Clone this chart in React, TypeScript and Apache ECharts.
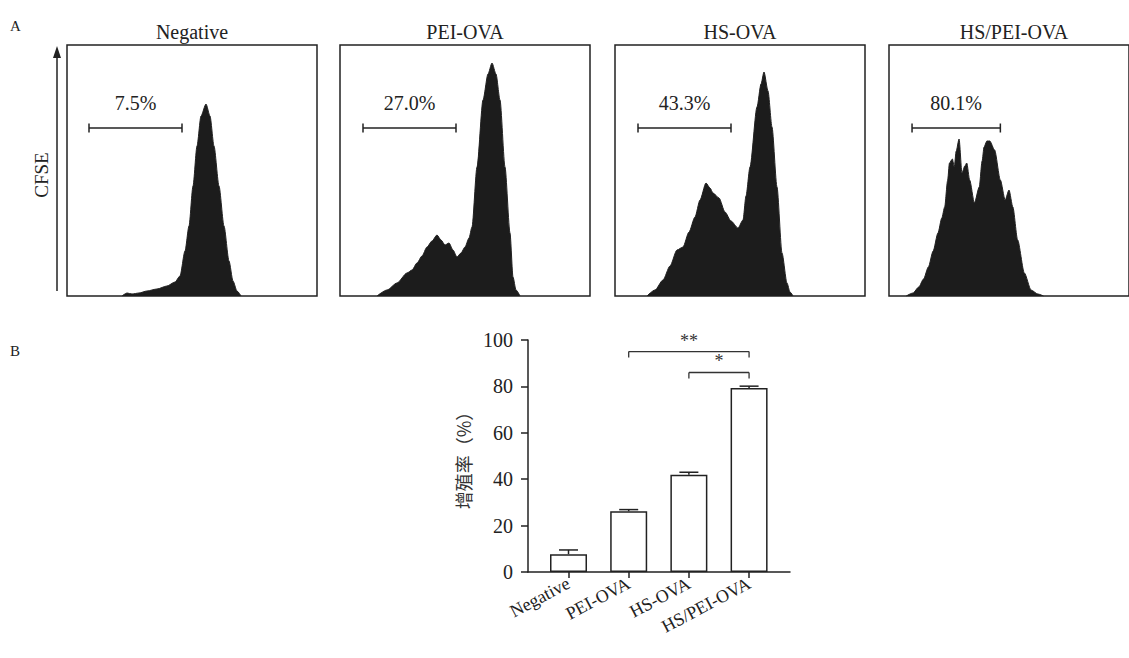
import React, { useEffect, useRef } from "react";
import * as echarts from "echarts";

// ---------- Panel A data ----------
const histTitles = ["Negative", "PEI-OVA", "HS-OVA", "HS/PEI-OVA"];
const gateLabels = ["7.5%", "27.0%", "43.3%", "80.1%"];
const gateStart = [22, 23, 23, 24];
const gateEnd = [115, 116, 116, 116];
const gateLevel = [168, 168, 168, 168];

// [channel, count]
const histNegative = [
  [55, 0], [60, 3], [65, 2], [72, 3], [80, 5], [90, 7], [100, 10], [108, 14], [113, 20],
  [118, 45], [122, 70], [126, 110], [130, 150], [134, 180], [139, 192], [143, 180],
  [147, 150], [152, 110], [157, 70], [162, 35], [166, 15], [170, 5], [174, 0],
];
const histPEI = [
  [37, 0], [47, 6], [57, 13], [67, 23], [72, 26], [77, 33], [82, 40], [87, 49], [92, 55],
  [97, 61], [101, 56], [105, 51], [109, 53], [113, 46], [117, 39], [121, 43], [125, 49],
  [129, 58], [132, 69], [137, 129], [143, 196], [148, 222], [152, 233], [156, 222],
  [160, 196], [165, 129], [170, 63], [173, 19], [176, 6], [180, 0],
];
const histHS = [
  [32, 0], [40, 6], [48, 16], [55, 30], [62, 46], [68, 49], [74, 64], [80, 79], [85, 96],
  [91, 113], [95, 108], [98, 103], [104, 98], [110, 84], [116, 75], [123, 68], [128, 76],
  [131, 100], [135, 129], [142, 189], [146, 212], [149, 224], [153, 205], [157, 169],
  [162, 109], [167, 43], [172, 13], [175, 4], [178, 0],
];
const histHSPEI = [
  [18, 0], [25, 3], [31, 9], [36, 17], [41, 29], [46, 45], [51, 63], [55, 78], [58, 89],
  [61, 115], [63, 133], [66, 137], [68, 129], [70, 145], [73, 157], [76, 123], [79, 130],
  [81, 133], [84, 116], [89, 93], [94, 109], [97, 135], [99, 149], [102, 155], [105, 155],
  [110, 146], [116, 116], [121, 96], [125, 106], [129, 89], [134, 56], [141, 23],
  [148, 6], [155, 2], [161, 0],
];
const histData = [histNegative, histPEI, histHS, histHSPEI];

// ---------- Panel B data ----------
const barCategories = ["Negative", "PEI-OVA", "HS-OVA", "HS/PEI-OVA"];
const barMeans = [7.7, 26.2, 41.9, 79.3];
const barErrors = [1.8, 0.7, 1.1, 0.8];
const yTicks = [0, 20, 40, 60, 80, 100];
// [from category, to category, bracket level]
const sigBrackets = [
  [1, 3, 95],
  [2, 3, 86],
];
const sigLabels = ["**", "*"];

const SERIF = '"Liberation Serif", "Times New Roman", serif';
const INK = "#222";

export default function App() {
  const ref = useRef<HTMLDivElement>(null);

  useEffect(() => {
    if (!ref.current) return;
    const chart = echarts.init(ref.current, null, { renderer: "svg" });

    const histLefts = [67, 340, 615, 889];
    const grids: any[] = histLefts.map((l) => ({
      left: l,
      top: 45,
      width: 250,
      height: 251,
      show: true,
      borderColor: INK,
      borderWidth: 1.5,
      backgroundColor: "transparent",
    }));
    grids.push({ left: 528, top: 340, width: 262, height: 232 });

    const xAxes: any[] = histLefts.map((_, i) => ({
      gridIndex: i, type: "value", min: 0, max: 250, show: false,
    }));
    const yAxes: any[] = histLefts.map((_, i) => ({
      gridIndex: i, type: "value", min: 0, max: 251, show: false,
    }));

    xAxes.push({
      gridIndex: 4,
      type: "value",
      min: -0.673,
      max: 3.68,
      splitLine: { show: false },
      axisLine: { show: true, onZero: false, lineStyle: { color: INK, width: 1.5 } },
      axisTick: { show: true, customValues: [0, 1, 2, 3], length: 6, lineStyle: { color: INK, width: 1.5 } },
      axisLabel: {
        customValues: [0, 1, 2, 3],
        formatter: (v: number) => barCategories[Math.round(v)] ?? "",
        rotate: 28,
        fontFamily: SERIF,
        fontSize: 18,
        color: INK,
        margin: 10,
      },
    });
    yAxes.push({
      gridIndex: 4,
      type: "value",
      min: 0,
      max: 100,
      interval: 20,
      splitLine: { show: false },
      axisLine: { show: true, onZero: false, lineStyle: { color: INK, width: 1.5 } },
      axisTick: { show: true, length: 7, lineStyle: { color: INK, width: 1.5 } },
      axisLabel: {
        fontFamily: SERIF,
        fontSize: 20,
        color: INK,
        margin: 15,
        formatter: (v: number) => (yTicks.includes(v) ? String(v) : ""),
      },
      name: "增殖率（%）",
      nameLocation: "middle",
      nameGap: 56,
      nameRotate: 90,
      nameTextStyle: { fontFamily: '"Noto Sans CJK SC"', fontSize: 18, color: "#333" },
    });

    const series: any[] = [];
    histData.forEach((d, i) => {
      series.push({
        type: "line",
        xAxisIndex: i,
        yAxisIndex: i,
        data: d,
        symbol: "none",
        smooth: 0.25,
        smoothMonotone: "x",
        lineStyle: { color: INK, width: 1 },
        areaStyle: { color: "#1c1c1c", opacity: 1 },
        silent: true,
      });
      series.push({
        type: "custom",
        xAxisIndex: i,
        yAxisIndex: i,
        clip: false,
        data: [[gateStart[i], gateEnd[i], gateLevel[i]]],
        renderItem: (params: any, api: any) => {
          const a = api.coord([api.value(0), api.value(2)]);
          const b = api.coord([api.value(1), api.value(2)]);
          const st = { stroke: INK, lineWidth: 1.5 };
          return {
            type: "group",
            children: [
              { type: "line", shape: { x1: a[0], y1: a[1], x2: b[0], y2: b[1] }, style: st },
              { type: "line", shape: { x1: a[0], y1: a[1] - 4.5, x2: a[0], y2: a[1] + 4.5 }, style: st },
              { type: "line", shape: { x1: b[0], y1: b[1] - 4.5, x2: b[0], y2: b[1] + 4.5 }, style: st },
              {
                type: "text",
                style: {
                  text: gateLabels[i],
                  x: (a[0] + b[0]) / 2,
                  y: a[1] - 25,
                  fill: INK,
                  font: `20px ${SERIF}`,
                  textAlign: "center",
                  textVerticalAlign: "middle",
                },
              },
            ],
          };
        },
      });
    });

    series.push({
      type: "bar",
      xAxisIndex: 4,
      yAxisIndex: 4,
      data: barMeans.map((m, i) => [i, m]),
      barWidth: 37,
      itemStyle: { color: "#fff", borderColor: INK, borderWidth: 1.5 },
    });
    series.push({
      type: "custom",
      xAxisIndex: 4,
      yAxisIndex: 4,
      clip: false,
      z: 5,
      data: barMeans.map((m, i) => [i, m, barErrors[i]]),
      renderItem: (params: any, api: any) => {
        const p0 = api.coord([api.value(0), api.value(1)]);
        const p1 = api.coord([api.value(0), api.value(1) + api.value(2)]);
        const st = { stroke: INK, lineWidth: 1.5 };
        return {
          type: "group",
          children: [
            { type: "line", shape: { x1: p0[0], y1: p0[1], x2: p1[0], y2: p1[1] }, style: st },
            { type: "line", shape: { x1: p1[0] - 9.5, y1: p1[1], x2: p1[0] + 9.5, y2: p1[1] }, style: st },
          ],
        };
      },
    });
    series.push({
      type: "custom",
      xAxisIndex: 4,
      yAxisIndex: 4,
      clip: false,
      z: 5,
      data: sigBrackets,
      renderItem: (params: any, api: any) => {
        const a = api.coord([api.value(0), api.value(2)]);
        const b = api.coord([api.value(1), api.value(2)]);
        const st = { stroke: "#333", lineWidth: 1.3 };
        return {
          type: "group",
          children: [
            { type: "line", shape: { x1: a[0], y1: a[1], x2: b[0], y2: b[1] }, style: st },
            { type: "line", shape: { x1: a[0], y1: a[1], x2: a[0], y2: a[1] + 6 }, style: st },
            { type: "line", shape: { x1: b[0], y1: b[1], x2: b[0], y2: b[1] + 6 }, style: st },
            {
              type: "text",
              style: {
                text: sigLabels[params.dataIndex],
                x: (a[0] + b[0]) / 2,
                y: a[1] - 2,
                fill: "#333",
                font: `18px ${SERIF}`,
                textAlign: "center",
                textVerticalAlign: "bottom",
              },
            },
          ],
        };
      },
    });

    const titleCenters = [192, 465, 740, 1014];
    const graphic: any[] = [
      { type: "text", left: 10, top: 18, style: { text: "A", fill: INK, font: `15px ${SERIF}` } },
      { type: "text", left: 10, top: 343, style: { text: "B", fill: INK, font: `15px ${SERIF}` } },
      { type: "line", shape: { x1: 57, y1: 291, x2: 57, y2: 55 }, style: { stroke: INK, lineWidth: 1.5 } },
      { type: "polygon", shape: { points: [[53, 58], [61, 58], [57, 46]] }, style: { fill: INK } },
      {
        type: "text",
        x: 41,
        y: 175,
        rotation: Math.PI / 2,
        style: { text: "CFSE", fill: INK, font: `19px ${SERIF}`, textAlign: "center", textVerticalAlign: "middle" },
      },
      ...histTitles.map((t, i) => ({
        type: "text",
        x: titleCenters[i],
        y: 32,
        style: { text: t, fill: INK, font: `20px ${SERIF}`, textAlign: "center", textVerticalAlign: "middle" },
      })),
    ];

    chart.setOption({
      animation: false,
      backgroundColor: "#fff",
      grid: grids,
      xAxis: xAxes,
      yAxis: yAxes,
      series,
      graphic,
    });

    return () => chart.dispose();
  }, []);

  return (
    <div
      ref={ref}
      style={{ position: "fixed", left: 0, top: 0, width: 1129, height: 658, background: "#fff" }}
    />
  );
}
